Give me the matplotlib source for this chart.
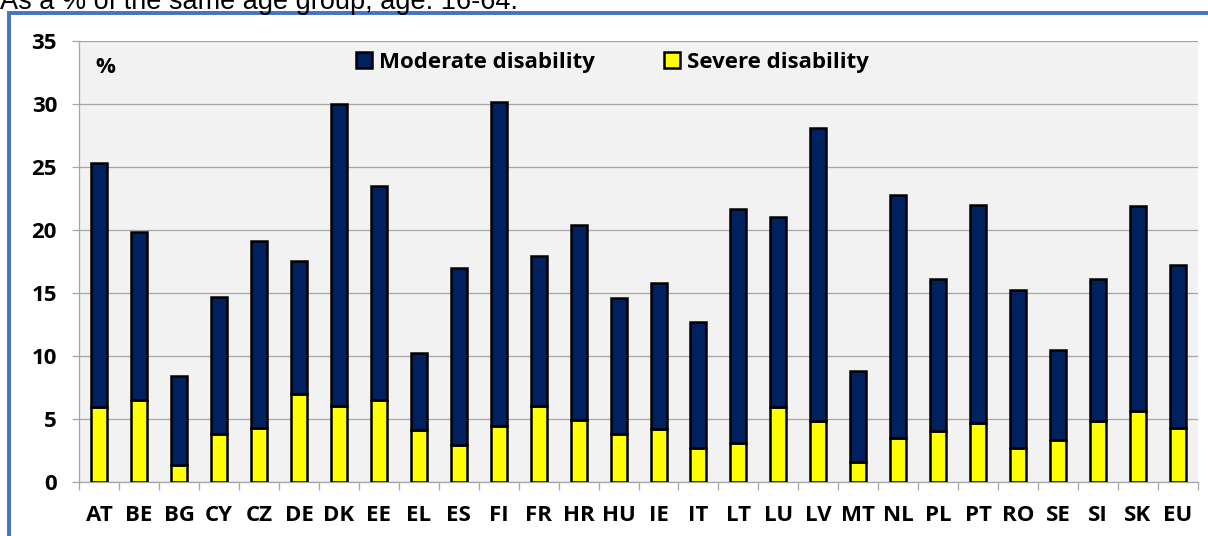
import matplotlib.pyplot as plt
from matplotlib.patches import Rectangle
import numpy as np

countries = ['AT', 'BE', 'BG', 'CY', 'CZ', 'DE', 'DK', 'EE', 'EL', 'ES', 'FI', 'FR', 'HR', 'HU',
             'IE', 'IT', 'LT', 'LU', 'LV', 'MT', 'NL', 'PL', 'PT', 'RO', 'SE', 'SI', 'SK', 'EU']
severe = [5.9, 6.5, 1.3, 3.8, 4.3, 7.0, 6.0, 6.5, 4.1, 2.9, 4.4, 6.0, 4.9, 3.8,
          4.2, 2.7, 3.1, 5.9, 4.8, 1.6, 3.5, 4.0, 4.7, 2.7, 3.3, 4.8, 5.6, 4.3]
moderate = [19.4, 13.3, 7.1, 10.9, 14.8, 10.5, 24.0, 17.0, 6.1, 14.1, 25.8, 11.9, 15.5, 10.8,
            11.6, 10.0, 18.6, 15.1, 23.3, 7.2, 19.3, 12.1, 17.3, 12.5, 7.2, 11.3, 16.3, 12.9]
y_ticks = [0, 5, 10, 15, 20, 25, 30, 35]

navy = '#002060'
yellow = '#FFFF00'
grid_grey = '#A6A6A6'
fsize = 16

plt.rcParams['font.family'] = ['Open Sans', 'DejaVu Sans']

fig = plt.figure(figsize=(12.08, 5.36), dpi=100)
ax = fig.add_axes([0.0656, 0.1013, 0.926, 0.822])
ax.set_facecolor('#F2F2F2')

x = np.arange(len(countries))
ax.bar(x, severe, width=0.40, color=yellow, edgecolor='black', linewidth=1.8,
       label='Severe disability', zorder=3)
ax.bar(x, moderate, width=0.40, bottom=severe, color=navy, edgecolor='black', linewidth=1.8,
       label='Moderate disability', zorder=3)

ax.set_xlim(-0.5, len(countries) - 0.5)
ax.set_ylim(0, 35)
ax.set_yticks(y_ticks)
ax.yaxis.grid(True, color=grid_grey, linewidth=0.9)
ax.set_axisbelow(True)

ax.set_xticks(x)
ax.set_xticklabels(countries, fontsize=fsize, fontweight='bold')
ax.set_xticks(np.arange(-0.5, len(countries)), minor=True)
ax.tick_params(axis='x', which='major', length=0, pad=16.5)
ax.tick_params(axis='x', which='minor', length=5.5, color=grid_grey, width=0.9)
ax.tick_params(axis='y', length=5, color=grid_grey, width=0.9, pad=11, labelsize=fsize)
for lbl in ax.get_yticklabels():
    lbl.set_fontweight('bold')

for side in ['top', 'right']:
    ax.spines[side].set_visible(False)
for side in ['left', 'bottom']:
    ax.spines[side].set_color(grid_grey)
    ax.spines[side].set_linewidth(0.9)

ax.text(0.023, 0.941, '%', transform=ax.transAxes, fontsize=fsize, fontweight='bold',
        ha='center', va='center')

handles, labels = ax.get_legend_handles_labels()
leg = ax.legend(handles[::-1], labels[::-1], ncol=2, loc='center left',
                bbox_to_anchor=(0.247, 0.952), frameon=False,
                prop={'size': fsize, 'weight': 'bold'},
                handlelength=0.75, handleheight=0.75, handletextpad=0.3,
                columnspacing=3.1, borderaxespad=0, borderpad=0)

# title, partly cut off at the top of the image
fig.text(0.0, 1 - 9 / 536, 'As a % of the same age group, age: 16-64.',
         family=['Liberation Sans', 'DejaVu Sans'], fontsize=19.5, ha='left', va='baseline')

# blue frame around the chart
frame = Rectangle((9 / 1208, -0.2), 1.2, 1.2 - 13 / 536, transform=fig.transFigure,
                  fill=False, edgecolor='#4472C4', linewidth=2.8, clip_on=False)
fig.patches.append(frame)

fig.savefig('out.png', dpi=100)
